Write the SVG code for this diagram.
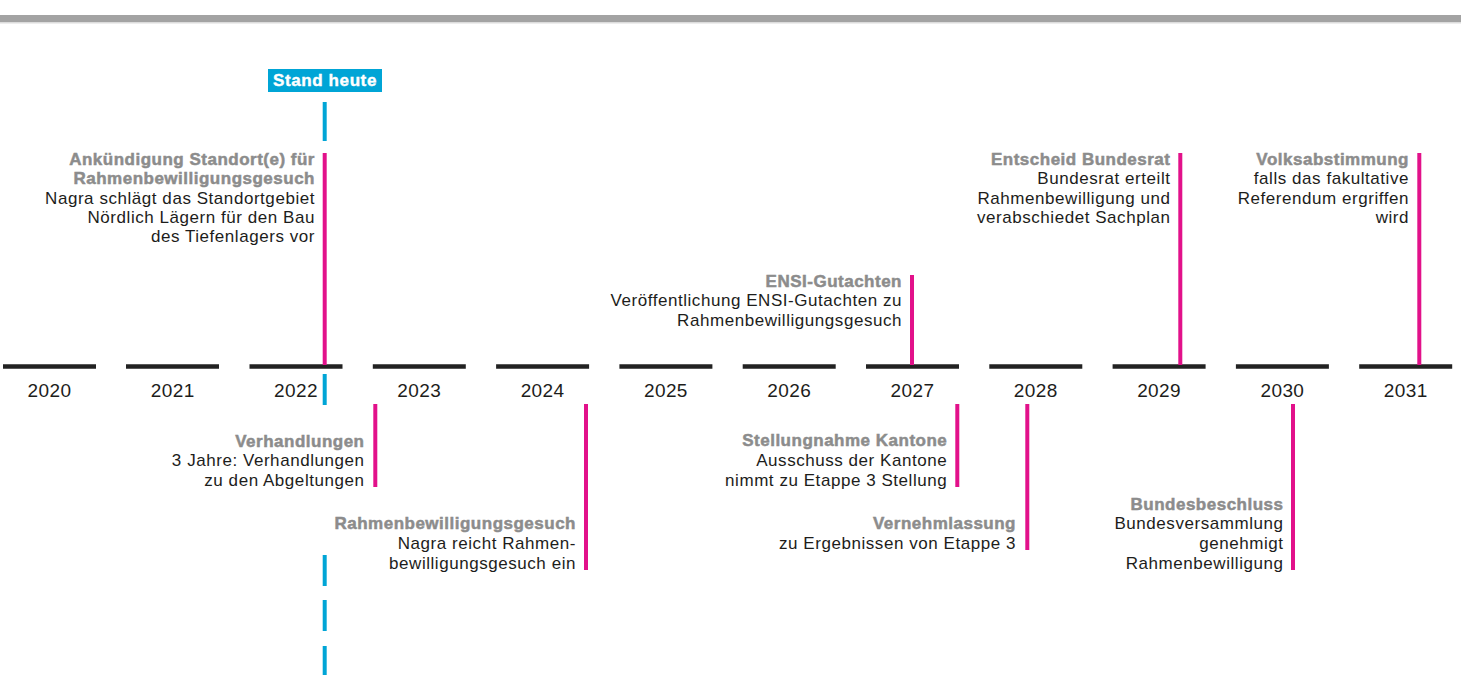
<svg xmlns="http://www.w3.org/2000/svg" width="1461" height="675" viewBox="0 0 1461 675">
<style>
text{font-family:"Liberation Sans",Arial,sans-serif;}
.t{font-size:17px;letter-spacing:0.55px;fill:#1d1d1b;text-anchor:end;}
.h{font-size:17px;font-weight:bold;letter-spacing:0.5px;fill:#8c8c8c;stroke:#8c8c8c;stroke-width:0.5px;text-anchor:end;}
.yr{font-size:19px;letter-spacing:0.4px;fill:#1d1d1b;text-anchor:middle;}
.ax{stroke:#222;stroke-width:4.5;}
.mg{stroke:#e2118a;stroke-width:4;}
.bl{stroke:#00a5d6;stroke-width:4;}
</style>
<rect x="0" y="15" width="1461" height="7" fill="#a3a3a3"/>
<rect x="0" y="22" width="1461" height="1.5" fill="#dcdcdc"/>
<g id="axis">
<line class="ax" x1="3" y1="366.5" x2="96" y2="366.5"/>
<line class="ax" x1="126" y1="366.5" x2="219" y2="366.5"/>
<line class="ax" x1="249.5" y1="366.5" x2="342.5" y2="366.5"/>
<line class="ax" x1="372.8" y1="366.5" x2="465.8" y2="366.5"/>
<line class="ax" x1="496.1" y1="366.5" x2="589.1" y2="366.5"/>
<line class="ax" x1="619.4" y1="366.5" x2="712.4" y2="366.5"/>
<line class="ax" x1="742.7" y1="366.5" x2="835.7" y2="366.5"/>
<line class="ax" x1="866" y1="366.5" x2="959" y2="366.5"/>
<line class="ax" x1="989.3" y1="366.5" x2="1082.3" y2="366.5"/>
<line class="ax" x1="1112.6" y1="366.5" x2="1205.6" y2="366.5"/>
<line class="ax" x1="1235.9" y1="366.5" x2="1328.9" y2="366.5"/>
<line class="ax" x1="1359.2" y1="366.5" x2="1452.2" y2="366.5"/>
<text class="yr" x="49.5" y="397">2020</text>
<text class="yr" x="172.8" y="397">2021</text>
<text class="yr" x="296" y="397">2022</text>
<text class="yr" x="419.3" y="397">2023</text>
<text class="yr" x="542.6" y="397">2024</text>
<text class="yr" x="665.9" y="397">2025</text>
<text class="yr" x="789.2" y="397">2026</text>
<text class="yr" x="912.5" y="397">2027</text>
<text class="yr" x="1035.8" y="397">2028</text>
<text class="yr" x="1159.1" y="397">2029</text>
<text class="yr" x="1282.4" y="397">2030</text>
<text class="yr" x="1405.7" y="397">2031</text>
</g>
<g id="connectors">
<line class="bl" x1="324.7" y1="102" x2="324.7" y2="141"/>
<line class="bl" x1="324.7" y1="374" x2="324.7" y2="405"/>
<line class="bl" x1="324.7" y1="555" x2="324.7" y2="586"/>
<line class="bl" x1="324.7" y1="600" x2="324.7" y2="631"/>
<line class="bl" x1="324.7" y1="646" x2="324.7" y2="675"/>
<line class="mg" x1="324.7" y1="153" x2="324.7" y2="365"/>
<line class="mg" x1="912" y1="275" x2="912" y2="365"/>
<line class="mg" x1="1180.3" y1="153" x2="1180.3" y2="365"/>
<line class="mg" x1="1419.3" y1="153" x2="1419.3" y2="365"/>
<line class="mg" x1="375.3" y1="404" x2="375.3" y2="487"/>
<line class="mg" x1="586" y1="404" x2="586" y2="570"/>
<line class="mg" x1="957.3" y1="404" x2="957.3" y2="487"/>
<line class="mg" x1="1027.3" y1="404" x2="1027.3" y2="550"/>
<line class="mg" x1="1293" y1="404" x2="1293" y2="570"/>
</g>
<g id="stand-heute">
<rect x="268" y="69" width="114" height="23" fill="#00a5d6"/>
<text x="325" y="86" style="font-size:17px;font-weight:bold;letter-spacing:0.6px;fill:#fff;stroke:#fff;stroke-width:0.4px;text-anchor:middle">Stand heute</text>
</g>
<g id="ankuendigung">
<text class="h" x="315" y="165">Ankündigung Standort(e) für</text>
<text class="h" x="315" y="184.3">Rahmenbewilligungsgesuch</text>
<text class="t" x="315" y="203.6">Nagra schlägt das Standortgebiet</text>
<text class="t" x="315" y="222.9">Nördlich Lägern für den Bau</text>
<text class="t" x="315" y="242.2">des Tiefenlagers vor</text>
</g>
<g id="ensi">
<text class="h" x="902" y="287">ENSI-Gutachten</text>
<text class="t" x="902" y="306.3">Veröffentlichung ENSI-Gutachten zu</text>
<text class="t" x="902" y="325.6">Rahmenbewilligungsgesuch</text>
</g>
<g id="bundesrat">
<text class="h" x="1170.5" y="165">Entscheid Bundesrat</text>
<text class="t" x="1170.5" y="184.3">Bundesrat erteilt</text>
<text class="t" x="1170.5" y="203.6">Rahmenbewilligung und</text>
<text class="t" x="1170.5" y="222.9">verabschiedet Sachplan</text>
</g>
<g id="volksabstimmung">
<text class="h" x="1409" y="165">Volksabstimmung</text>
<text class="t" x="1409" y="184.3">falls das fakultative</text>
<text class="t" x="1409" y="203.6">Referendum ergriffen</text>
<text class="t" x="1409" y="222.9">wird</text>
</g>
<g id="verhandlungen">
<text class="h" x="364.5" y="446.7">Verhandlungen</text>
<text class="t" x="364.5" y="466.4">3 Jahre: Verhandlungen</text>
<text class="t" x="364.5" y="486">zu den Abgeltungen</text>
</g>
<g id="rahmenbewilligungsgesuch">
<text class="h" x="576" y="529.3">Rahmenbewilligungsgesuch</text>
<text class="t" x="576" y="549.3">Nagra reicht Rahmen-</text>
<text class="t" x="576" y="569">bewilligungsgesuch ein</text>
</g>
<g id="stellungnahme">
<text class="h" x="947.3" y="446.3">Stellungnahme Kantone</text>
<text class="t" x="947.3" y="466">Ausschuss der Kantone</text>
<text class="t" x="947.3" y="485.7">nimmt zu Etappe 3 Stellung</text>
</g>
<g id="vernehmlassung">
<text class="h" x="1016" y="529.3">Vernehmlassung</text>
<text class="t" x="1016" y="549">zu Ergebnissen von Etappe 3</text>
</g>
<g id="bundesbeschluss">
<text class="h" x="1283.5" y="509.5">Bundesbeschluss</text>
<text class="t" x="1283.5" y="529.3">Bundesversammlung</text>
<text class="t" x="1283.5" y="549">genehmigt</text>
<text class="t" x="1283.5" y="568.8">Rahmenbewilligung</text>
</g>
</svg>
